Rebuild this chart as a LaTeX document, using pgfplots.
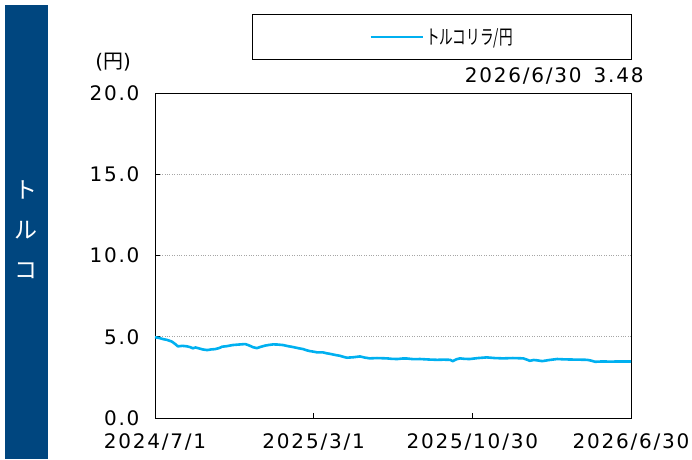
\documentclass[border=0pt]{standalone}
\usepackage{fontspec}
\setmainfont{DejaVu Sans}[LetterSpace=9]
\newfontfamily\jp{Noto Sans CJK JP}
\usepackage{graphicx}
\usepackage{pgfplots}
\pgfplotsset{compat=1.18}
\definecolor{band}{RGB}{0,70,127}
\definecolor{lira}{RGB}{0,176,240}
\begin{document}
\begin{tikzpicture}
\path[use as bounding box] (-155pt,-41pt) rectangle (537pt,418pt);
\fill[band] (-150pt,-41pt) rectangle (-107pt,413pt);
\node[text=white, font=\jp\fontsize{23}{40}\selectfont, align=center] at (-128.5pt,188pt) {ト\\ル\\コ};
\begin{axis}[
  at={(0pt,0pt)}, anchor=south west,
  scale only axis, width=476pt, height=325pt,
  xmin=0, xmax=729, ymin=0, ymax=20,
  xtick={0,243,486,729},
  xticklabels={2024/7/1,2025/3/1,2025/10/30,2026/6/30},
  ytick={0,5,10,15,20},
  yticklabel style={xshift=-12pt, /pgf/number format/fixed,
    /pgf/number format/fixed zerofill, /pgf/number format/precision=1},
  /pgf/number format/assume math mode=true,
  tick pos=left, tick align=inside, major tick length=5pt,
  tick style={black, line width=0.8pt},
  ymajorgrids, grid style={gray!70, dotted, line width=0.8pt},
  axis line style={line width=1pt},
  ticklabel style={font=\fontsize{20}{20}\selectfont},
  xticklabel style={yshift=-12pt},
  legend style={at={(0.603,1.243)}, anchor=north, draw=black,
    inner xsep=117pt, inner ysep=12pt, font=\jp\fontsize{20}{20}\selectfont},
  legend image code/.code={\draw[#1] (0pt,0pt) -- (52pt,0pt);},
  clip=false,
]
\addplot[color=lira, line width=2.6pt, line join=round] coordinates {
(0,4.97)(6,4.93)(12,4.86)(19,4.80)(26,4.70)(31,4.55)(35,4.41)(42,4.44)(49,4.41)
(54,4.36)(58,4.29)(62,4.34)(66,4.30)(73,4.22)(80,4.18)(86,4.22)(92,4.24)
(98,4.30)(103,4.39)(110,4.42)(119,4.49)(128,4.52)(138,4.55)(142,4.50)(145,4.45)
(150,4.36)(156,4.30)(162,4.38)(168,4.45)(175,4.50)(181,4.53)(188,4.52)(196,4.49)
(204,4.42)(211,4.37)(219,4.30)(227,4.24)(232,4.17)(237,4.12)(243,4.08)(248,4.04)
(257,4.04)(262,3.99)(268,3.95)(276,3.88)(283,3.83)(289,3.76)(294,3.71)(304,3.74)
(314,3.79)(321,3.72)(329,3.67)(340,3.69)(355,3.67)(363,3.64)(371,3.63)(379,3.66)
(386,3.66)(396,3.62)(406,3.63)(419,3.60)(432,3.58)(442,3.59)(452,3.58)(456,3.50)
(462,3.62)(467,3.67)(474,3.64)(482,3.63)(495,3.69)(508,3.73)(520,3.69)(533,3.67)
(548,3.69)(564,3.67)(569,3.60)(574,3.52)(580,3.57)(585,3.55)(593,3.50)(604,3.57)
(616,3.63)(626,3.61)(636,3.60)(650,3.59)(662,3.58)(668,3.53)(674,3.46)(685,3.48)
(697,3.47)(712,3.48)(729,3.48)
};
\addlegendentry{\scalebox{0.68}[1]{トルコリラ/円}}
\node[font=\fontsize{20}{20}\selectfont] at (rel axis cs:-0.088,1.095) {(\jp 円\rm)};
\node[anchor=east, font=\fontsize{20}{20}\selectfont] at (rel axis cs:1.034,1.052) {2026/6/30\hspace{0.6em}3.48};
\end{axis}
\end{tikzpicture}
\end{document}
